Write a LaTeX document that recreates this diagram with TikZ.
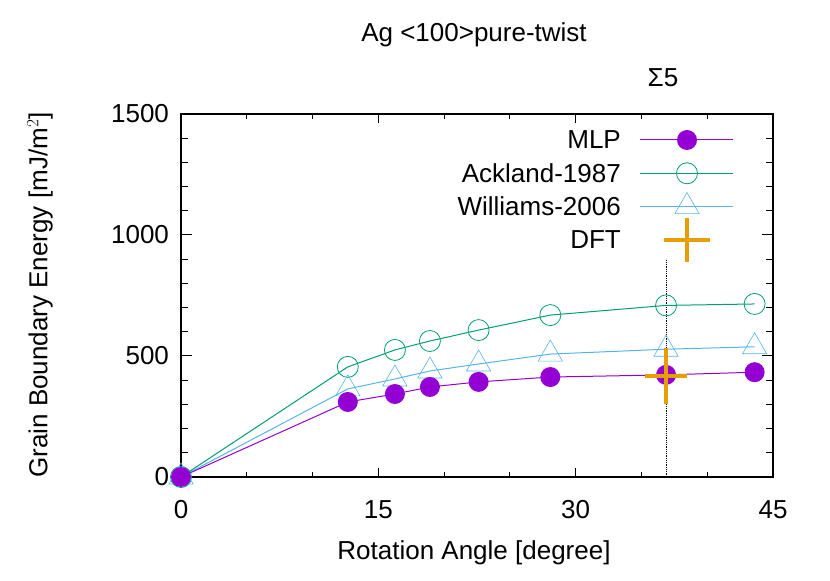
\documentclass[tikz,border=0pt]{standalone}
\usepackage{fontspec}
\setmainfont{Liberation Sans}
\usetikzlibrary{shapes.geometric}
\definecolor{mlpc}{HTML}{9400D3}
\definecolor{ackc}{HTML}{009E73}
\definecolor{wilc}{HTML}{56B4E9}
\definecolor{dftc}{HTML}{E69F00}
\tikzset{
  lbl/.style={font=\fontsize{26}{30}\selectfont, inner sep=0pt},
  mlpmark/.style={circle, fill=mlpc, minimum size=20pt, inner sep=0pt},
  ackmark/.style={circle, draw=ackc, thick, minimum size=21pt, inner sep=0pt},
  wilmark/.style={isosceles triangle, isosceles triangle apex angle=60, shape border rotate=90, draw=wilc, semithick, minimum size=21pt, inner sep=0pt},
}
\begin{document}
\begin{tikzpicture}[x=1pt, y=1pt]
\useasboundingbox (0,0) rectangle (830,581);
% axes frame and ticks
\begin{scope}[shift={(181,104)}, x=13.156pt, y=0.242pt]
  \draw[line width=1.6pt] (0,0) rectangle (45,1500);
  \foreach \v in {0,100,...,1500}{
    \pgfmathsetmacro{\tl}{mod(\v,500)==0 ? 0.85 : 0.5}
    \draw[line width=1pt] (0,\v) -- ++(\tl,0);
    \draw[line width=1pt] (45,\v) -- ++(-\tl,0);
  }
  \foreach \v in {0,500,1000,1500}
    \node[lbl, anchor=east] at (-0.9,\v) {\v};
  \foreach \u in {0,5,...,45}{
    \pgfmathsetmacro{\tl}{mod(\u,15)==0 ? 38 : 22}
    \draw[line width=1pt] (\u,0) -- ++(0,\tl);
    \draw[line width=1pt] (\u,1500) -- ++(0,-\tl);
  }
  \foreach \u in {0,15,30,45}
    \node[lbl, anchor=north] at (\u,-95) {\u};
  % Sigma5 marker line
  \draw[densely dotted, line width=0.8pt] (36.87,0) -- (36.87,900);
  % data curves
  \draw[ackc, line width=1pt] (0,0) -- (12.68,455) -- (16.26,525) -- (18.92,562) -- (22.62,607) -- (28.07,669) -- (36.87,709) -- (43.6,715);
  \draw[wilc, line width=1pt] (0,0) -- (12.68,364) -- (16.26,405) -- (18.92,438) -- (22.62,467) -- (28.07,508) -- (36.87,528) -- (43.6,538);
  \draw[mlpc, line width=1pt] (0,0) -- (12.68,310) -- (16.26,343) -- (18.92,372) -- (22.62,393) -- (28.07,413) -- (36.87,422) -- (43.6,433);
  \foreach \a/\e [count=\i] in {0/0,12.68/455,16.26/525,18.92/562,22.62/607,28.07/669,36.87/709,43.6/715}
    \node[ackmark] (ack\i) at (\a,\e) {};
  \foreach \a/\e [count=\i] in {0/0,12.68/364,16.26/405,18.92/438,22.62/467,28.07/508,36.87/528,43.6/538}
    \node[wilmark] (wil\i) at (\a,\e) {};
  \foreach \a/\e [count=\i] in {0/0,12.68/310,16.26/343,18.92/372,22.62/393,28.07/413,36.87/422,43.6/433}
    \node[mlpmark] (mlp\i) at (\a,\e) {};
  \coordinate (dft) at (36.87,417);
\end{scope}
\draw[dftc, line width=4.5pt] ([xshift=-21pt]dft) -- ([xshift=21pt]dft);
\draw[dftc, line width=4.5pt] ([yshift=-28pt]dft) -- ([yshift=28pt]dft);
% legend
\foreach \t/\c [count=\i] in {MLP/mlpc, Ackland-1987/ackc, Williams-2006/wilc, DFT/dftc}{
  \node[lbl, anchor=east] (leg\i) at (621,581-140-33.3*\i+33.3) {\t};
}
\draw[mlpc, line width=1pt] (640,441) -- (733,441);
\node[mlpmark] at (687,441) {};
\draw[ackc, line width=1pt] (640,407.7) -- (733,407.7);
\node[ackmark] at (687,407.7) {};
\draw[wilc, line width=1pt] (640,374.4) -- (733,374.4);
\node[wilmark] at (687,374.4) {};
\coordinate (legdft) at (687,341.1);
\draw[dftc, line width=4.5pt] ([xshift=-23pt]legdft) -- ([xshift=23pt]legdft);
\draw[dftc, line width=4.5pt] ([yshift=-22pt]legdft) -- ([yshift=22pt]legdft);
% titles
\node[lbl] (title) at (474,546) {Ag <100>pure-twist};
\node[lbl] (sigma) at (663,503) {Σ5};
\node[lbl] (xlab) at (474,28) {Rotation Angle [degree]};
\node[lbl, rotate=90] (ylab) at (40,286) {Grain Boundary Energy [mJ/m$^2$]};
\end{tikzpicture}
\end{document}
